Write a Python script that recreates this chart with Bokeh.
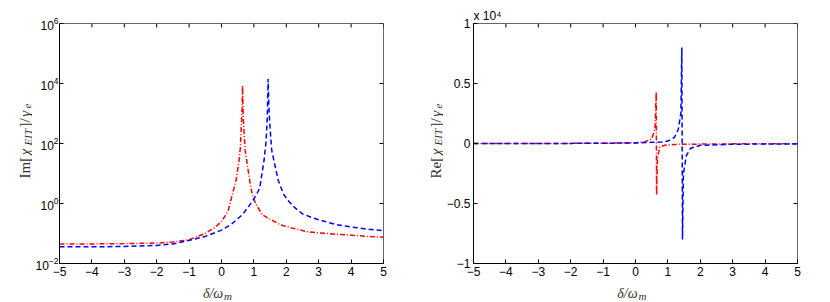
import math
from bokeh.plotting import figure
from bokeh.models import FixedTicker, Range1d, ColumnDataSource, Title
from bokeh.core.properties import value, field
from bokeh.layouts import row, column
from bokeh.embed import file_html
from bokeh.resources import INLINE

# ---------------- data ----------------
x_ticks = [-5, -4, -3, -2, -1, 0, 1, 2, 3, 4, 5]
x_tick_labels = ["\u22125", "\u22124", "\u22123", "\u22122", "\u22121", "0", "1", "2", "3", "4", "5"]
im_ticks = [1e-2, 1e0, 1e2, 1e4, 1e6]
re_ticks = [-1e4, -5e3, 0, 5e3, 1e4]
re_tick_labels = ["\u22121", "\u22120.5", "0", "0.5", "1"]

# Im[chi_EIT]/gamma_e  (left panel)
im_red_x = [-5, -4, -3, -2, -1.5, -1, -0.5, -0.2, 0, 0.2, 0.335, 0.45, 0.54, 0.58, 0.61, 0.635, 0.65,
            0.67, 0.69, 0.73, 0.78, 0.88, 0.95, 1.05, 1.26, 1.5, 1.82, 2.2, 2.64, 3.0, 3.57, 4.0, 4.5, 5.0]
im_red_y = [0.045, 0.045, 0.046, 0.048, 0.052, 0.062, 0.10, 0.16, 0.25, 0.55, 2.0, 6.0, 26, 70, 340, 1500, 8500,
            800, 300, 60, 26, 5.0, 2.0, 1.0, 0.42, 0.30, 0.195, 0.15, 0.115, 0.105, 0.094, 0.088, 0.080, 0.075]
im_blue_x = [-5, -4, -3, -2, -1.5, -1.15, -0.5, 0, 0.3, 0.64, 0.95, 1.1, 1.18, 1.31, 1.37, 1.41, 1.44,
             1.46, 1.49, 1.55, 1.62, 1.75, 1.92, 2.1, 2.28, 2.5, 2.85, 3.2, 3.57, 4.0, 4.5, 5.0]
im_blue_y = [0.036, 0.036, 0.037, 0.040, 0.045, 0.054, 0.08, 0.13, 0.2, 0.42, 1.17, 2.2, 3.3, 26, 100, 600, 14000,
             2000, 450, 60, 26, 6.0, 2.0, 1.1, 0.7, 0.45, 0.32, 0.25, 0.195, 0.165, 0.14, 0.125]

# Re[chi_EIT]/gamma_e  (right panel)
re_red_x = [-5, -2, -1, 0, 0.3, 0.5, 0.6, 0.64, 0.65, 0.68, 0.72, 0.75, 0.9, 1.2, 1.5, 2.0, 3.0, 5.0]
re_red_y = [0, 10, 20, 60, 150, 400, 1200, 4300, -4300, -1200, -700, -300, -150, -80, -60, -50, -30, -15]
re_blue_x = [-5, -2, -1, 0, 0.5, 0.8, 1.0, 1.2, 1.32, 1.4, 1.43, 1.45, 1.48, 1.57, 1.7, 2.0, 3.0, 5.0]
re_blue_y = [0, 10, 20, 50, 100, 120, 200, 500, 1170, 2500, 8000, -8000, -2500, -1000, -400, -150, -60, -30]

RED = "#ff0000"
BLUE = "#0000ff"
SANS = "Liberation Sans"
SERIF = "Liberation Serif"
LABEL_COLOR = "#333333"


def style_axis(ax, standoff):
    ax.major_tick_in = 4
    ax.major_tick_out = 0
    ax.minor_tick_in = 0
    ax.minor_tick_out = 0
    ax.axis_line_color = "black"
    ax.major_tick_line_color = "black"
    ax.major_label_text_font = SANS
    ax.major_label_text_font_size = "12px"
    ax.major_label_text_color = "black"
    ax.major_label_standoff = standoff


def make_fig(y_type, y_range, y_ticks, width, height, b_left, b_right, b_top, b_bottom, y_standoff):
    p = figure(width=width, height=height, x_range=(-5, 5), y_range=y_range, title=None,
               y_axis_type=y_type, output_backend="svg", toolbar_location=None,
               min_border_left=b_left, min_border_right=b_right,
               min_border_top=b_top, min_border_bottom=b_bottom)
    p.xgrid.visible = False
    p.ygrid.visible = False
    p.outline_line_color = "#666666"
    p.outline_line_width = 1
    p.background_fill_color = "white"
    p.border_fill_color = "white"
    p.xaxis.ticker = FixedTicker(ticks=x_ticks)
    p.xaxis.major_label_overrides = dict(zip(x_ticks, x_tick_labels))
    p.yaxis.ticker = FixedTicker(ticks=y_ticks)
    style_axis(p.xaxis[0], 3)
    style_axis(p.yaxis[0], y_standoff)
    # inward ticks on the top and right edges of the box
    p.ray(x=x_ticks, y=[y_range[1]] * len(x_ticks), length=4, length_units="screen",
          angle=-math.pi / 2, line_color="black", line_width=1)
    p.ray(x=[x_ticks[-1]] * len(y_ticks), y=y_ticks, length=4, length_units="screen",
          angle=math.pi, line_color="black", line_width=1)
    return p


def make_strip(width, height):
    s = figure(width=width, height=height, x_range=Range1d(0, width), y_range=Range1d(0, height),
               title=None, output_backend="svg", toolbar_location=None,
               x_axis_location=None, y_axis_location=None,
               min_border=0, min_border_left=0, min_border_right=0, min_border_top=0, min_border_bottom=0)
    s.grid.visible = False
    s.outline_line_color = None
    s.background_fill_color = "white"
    s.border_fill_color = "white"
    return s


def ylabel_strip(head, width, base_x, y0):
    s = make_strip(width, 302)
    pieces = [(head, "normal", False, 21.7),
              ("\u03c7", "italic", False, 8.3),
              ("EIT", "italic", True, 16.5),
              ("]/", "normal", False, 9.2),
              ("\u03b3", "italic", False, 6.8),
              ("e", "italic", True, 4.9)]
    xs, ys, texts, styles, sizes = [], [], [], [], []
    y = y0
    for txt, sty, is_sub, w in pieces:
        xs.append(base_x + (2.5 if is_sub else 0))
        ys.append(y)
        texts.append(txt)
        styles.append(sty)
        sizes.append("11px" if is_sub else "15px")
        y += w + 1.5
    src = ColumnDataSource(dict(x=xs, y=ys, text=texts, style=styles, size=sizes))
    s.text(x="x", y="y", text="text", source=src, angle=math.pi / 2, text_align="left",
           text_baseline="alphabetic", text_font=value(SERIF), text_font_style=field("style"),
           text_font_size=field("size"), text_color=LABEL_COLOR)
    return s


def xlabel_strip(width, anchor):
    s = make_strip(width, 22)
    s.text(x=[anchor], y=[9.5], text=["\u03b4/\u03c9"], text_align="right", text_baseline="alphabetic",
           text_font=value(SERIF), text_font_style="italic", text_font_size=value("14px"),
           text_color=LABEL_COLOR)
    s.text(x=[anchor + 1], y=[7], text=["m"], text_align="left", text_baseline="alphabetic",
           text_font=value(SERIF), text_font_style="italic", text_font_size=value("11px"),
           text_color=LABEL_COLOR)
    return s


# ---------------- left: Im ----------------
p1 = make_fig("log", (1e-2, 1e6), im_ticks, 388, 280, 26, 37, 23, 17, 1)
p1.line(im_red_x, im_red_y, line_color=RED, line_width=1.5, line_dash="5 2 1 2")
p1.line(im_blue_x, im_blue_y, line_color=BLUE, line_width=1.5, line_dash="5 3")
ylab1 = ylabel_strip("Im[", 32, 24.5, 124)
xlab1 = xlabel_strip(388, 196)

# ---------------- right: Re ----------------
p2 = make_fig("linear", (-1e4, 1e4), re_ticks, 387, 280, 27, 33, 23, 17, 3)
p2.yaxis.major_label_overrides = dict(zip(re_ticks, re_tick_labels))
p2.line(re_red_x, re_red_y, line_color=RED, line_width=1.5, line_dash="5 2 1 2")
p2.line(re_blue_x, re_blue_y, line_color=BLUE, line_width=1.5, line_dash="5 3")
p2.add_layout(Title(text="x 10\u2074", align="left", text_font=SANS, text_font_size="12px",
                    text_font_style="normal", text_color="black", standoff=2, offset=0), "above")
ylab2 = ylabel_strip("Re[", 23, 15, 124)
xlab2 = xlabel_strip(387, 196)

layout = row(ylab1, column(p1, xlab1), ylab2, column(p2, xlab2))
open("out.html", "w").write(file_html(layout, INLINE))
